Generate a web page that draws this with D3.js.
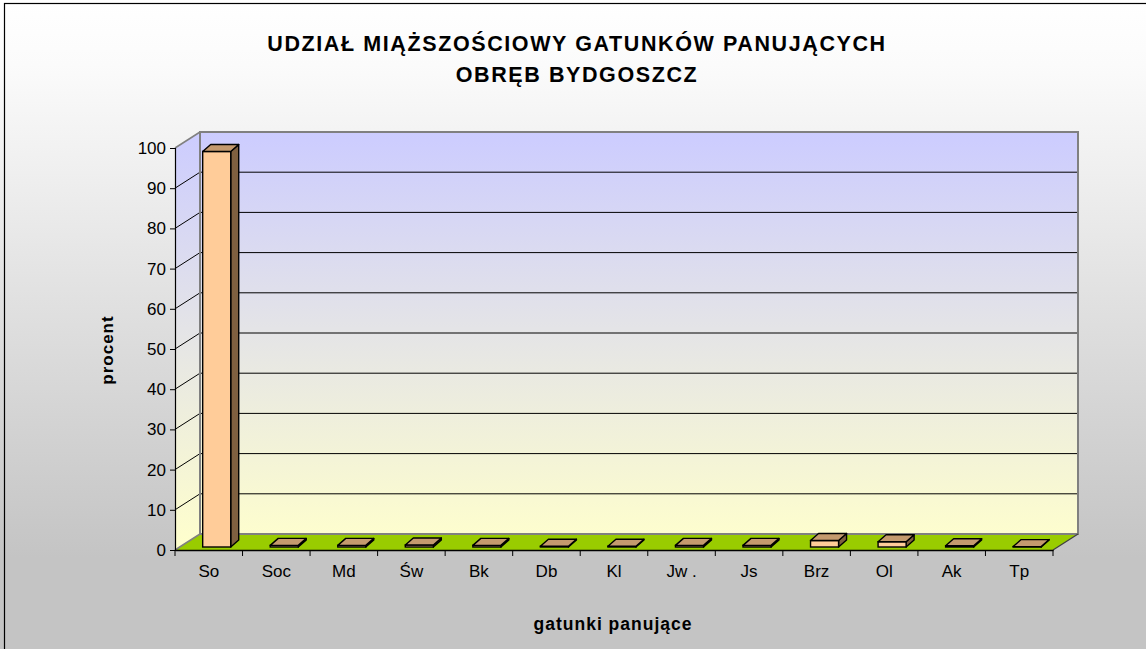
<!DOCTYPE html>
<html>
<head>
<meta charset="utf-8">
<script src="https://cdn.jsdelivr.net/npm/d3@7"></script>
<style>
html,body{margin:0;padding:0;background:#fff;}
svg{display:block;font-family:"Liberation Sans",Arial,sans-serif;}
</style>
</head>
<body>
<svg id="chart" width="1146" height="649"></svg>
<script>
const titleLines = ["UDZIAŁ MIĄŻSZOŚCIOWY GATUNKÓW PANUJĄCYCH", "OBRĘB BYDGOSZCZ"];
const categories = ["So","Soc","Md","Św","Bk","Db","Kl","Jw .","Js","Brz","Ol","Ak","Tp"];
const values = [98.4, 0.4, 0.4, 0.5, 0.4, 0.2, 0.2, 0.4, 0.4, 1.6, 1.3, 0.3, 0.1];
const yTicks = [0,10,20,30,40,50,60,70,80,90,100];
const yTitle = "procent";
const xTitle = "gatunki panujące";

(function(){
const svg = d3.select("#chart");
const W = 1146, H = 649;

const pLeft = 175, pRight = 1053, pBottom = 550, pTop = 148;
const depthX = 25, depthY = -16;
const barDX = 8, barDY = -7;
const barFX = 0, barFY = -3;

const x = d3.scaleBand().domain(categories).range([pLeft, pRight]);
const y = d3.scaleLinear().domain([0, 100]).range([pBottom, pTop]);

const defs = svg.append("defs");
const bg = defs.append("linearGradient").attr("id","bg").attr("x1",0).attr("y1",0).attr("x2",0).attr("y2",1);
bg.append("stop").attr("offset","0%").attr("stop-color","#ffffff");
bg.append("stop").attr("offset","10%").attr("stop-color","#fbfbfb");
bg.append("stop").attr("offset","86%").attr("stop-color","#c4c4c4");
bg.append("stop").attr("offset","100%").attr("stop-color","#c4c4c4");

const wall = defs.append("linearGradient").attr("id","wall").attr("gradientUnits","userSpaceOnUse")
  .attr("x1",0).attr("y1",y(100)+depthY).attr("x2",0).attr("y2",y(0));
wall.append("stop").attr("offset","0%").attr("stop-color","#ccccff");
wall.append("stop").attr("offset","100%").attr("stop-color","#ffffcc");

svg.append("rect").attr("x",0).attr("y",0).attr("width",W).attr("height",H).attr("fill","url(#bg)");
svg.append("rect").attr("x",4.5).attr("y",3.5).attr("width",W+10).attr("height",H+10)
  .attr("fill","none").attr("stroke","#000").attr("stroke-width",1.2);

svg.append("g").selectAll("text").data(titleLines).join("text")
  .attr("x", 577).attr("y",(d,i)=>51+i*31)
  .attr("text-anchor","middle").attr("font-weight","bold").attr("font-size","21.5px")
  .attr("letter-spacing","1.6px")
  .text(d=>d);

const backL = pLeft + depthX, backR = pRight + depthX;
const yTop = y(100), yBot = y(0);

svg.append("rect").attr("x",backL).attr("y",yTop+depthY).attr("width",backR-backL).attr("height",yBot-yTop)
  .attr("fill","url(#wall)");
svg.append("path").attr("d",`M${pLeft},${yBot}L${pLeft},${yTop}L${backL},${yTop+depthY}L${backL},${yBot+depthY}Z`)
  .attr("fill","url(#wall)");

const inner = yTicks.filter(t=>t>0 && t<100);
const grid = svg.append("g");
grid.selectAll("line.b").data(inner).join("line").attr("class","b")
  .attr("x1",backL).attr("x2",backR).attr("y1",d=>y(d)+depthY).attr("y2",d=>y(d)+depthY)
  .attr("stroke","#000").attr("stroke-width",1);
grid.selectAll("line.s").data(inner).join("line").attr("class","s")
  .attr("x1",pLeft).attr("x2",backL).attr("y1",d=>y(d)).attr("y2",d=>y(d)+depthY)
  .attr("stroke","#000").attr("stroke-width",1);

svg.append("path").attr("d",`M${pLeft},${yBot}L${pRight},${yBot}L${backR},${yBot+depthY}L${backL},${yBot+depthY}Z`)
  .attr("fill","#99cc00");

svg.append("path").attr("d",`M${backL},${yBot+depthY}L${backL},${yTop+depthY}L${backR},${yTop+depthY}L${backR},${yBot+depthY}L${backL},${yBot+depthY}`)
  .attr("fill","none").attr("stroke","#808080").attr("stroke-width",2);
svg.append("path").attr("d",`M${pLeft},${yTop}L${backL},${yTop+depthY}M${pLeft},${yBot}L${backL},${yBot+depthY}`)
  .attr("fill","none").attr("stroke","#808080").attr("stroke-width",1.5);
svg.append("path").attr("d",`M${pRight},${yBot}L${backR},${yBot+depthY}`)
  .attr("fill","none").attr("stroke","#404040").attr("stroke-width",1.2);

const bw = x.bandwidth()*0.415;
const bo = x.bandwidth()*0.41;
const bars = svg.append("g").selectAll("g").data(categories.map((c,i)=>({c, v:values[i]}))).join("g");
function pts(arr){return arr.map(p=>p.join(",")).join(" ");}
bars.each(function(d){
  const g = d3.select(this);
  const x0 = x(d.c)+bo+barFX, x1 = x0+bw;
  const yb = y(0)+barFY, yt = y(d.v)+barFY;
  g.append("polygon").attr("points",pts([[x1,yb],[x1,yt],[x1+barDX,yt+barDY],[x1+barDX,yb+barDY]]))
    .attr("fill","#7f6040").attr("stroke","#000").attr("stroke-width",1.4).attr("stroke-linejoin","round");
  g.append("rect").attr("x",x0).attr("y",yt).attr("width",bw).attr("height",Math.max(0,yb-yt))
    .attr("fill","#ffcc99").attr("stroke","#000").attr("stroke-width",1.4);
  g.append("polygon").attr("points",pts([[x0,yt],[x1,yt],[x1+barDX,yt+barDY],[x0+barDX,yt+barDY]]))
    .attr("fill","#c49a6e").attr("stroke","#000").attr("stroke-width",1.4).attr("stroke-linejoin","round");
});

const yAxis = d3.axisLeft(y).tickValues(yTicks).tickSize(5).tickPadding(4);
const ya = svg.append("g").attr("transform",`translate(${pLeft},0)`).call(yAxis);
ya.select(".domain").attr("stroke","#000").attr("stroke-width",1.2);
ya.selectAll(".tick line").attr("stroke","#000");
ya.selectAll(".tick text").attr("font-size","17px").attr("font-family","Liberation Sans, Arial, sans-serif").attr("fill","#000");

const xAxis = d3.axisBottom(x).tickSize(0).tickPadding(15);
const xa = svg.append("g").attr("transform",`translate(0,${pBottom})`).call(xAxis);
xa.select(".domain").attr("stroke","#000").attr("stroke-width",1.5);
xa.selectAll(".tick text").attr("font-size","17px").attr("font-family","Liberation Sans, Arial, sans-serif").attr("fill","#000");
xa.append("g").selectAll("line").data(categories.concat(["__end"])).join("line")
  .attr("x1",(d,i)=>pLeft+i*x.step()).attr("x2",(d,i)=>pLeft+i*x.step())
  .attr("y1",0).attr("y2",6).attr("stroke","#000").attr("stroke-width",1);

svg.append("text").attr("transform","translate(113,350) rotate(-90)")
  .attr("text-anchor","middle").attr("font-weight","bold").attr("font-size","17px").attr("letter-spacing","1px")
  .text(yTitle);
svg.append("text").attr("x",613).attr("y",630)
  .attr("text-anchor","middle").attr("font-weight","bold").attr("font-size","17.5px").attr("letter-spacing","1px")
  .text(xTitle);
})();
</script>
</body>
</html>
